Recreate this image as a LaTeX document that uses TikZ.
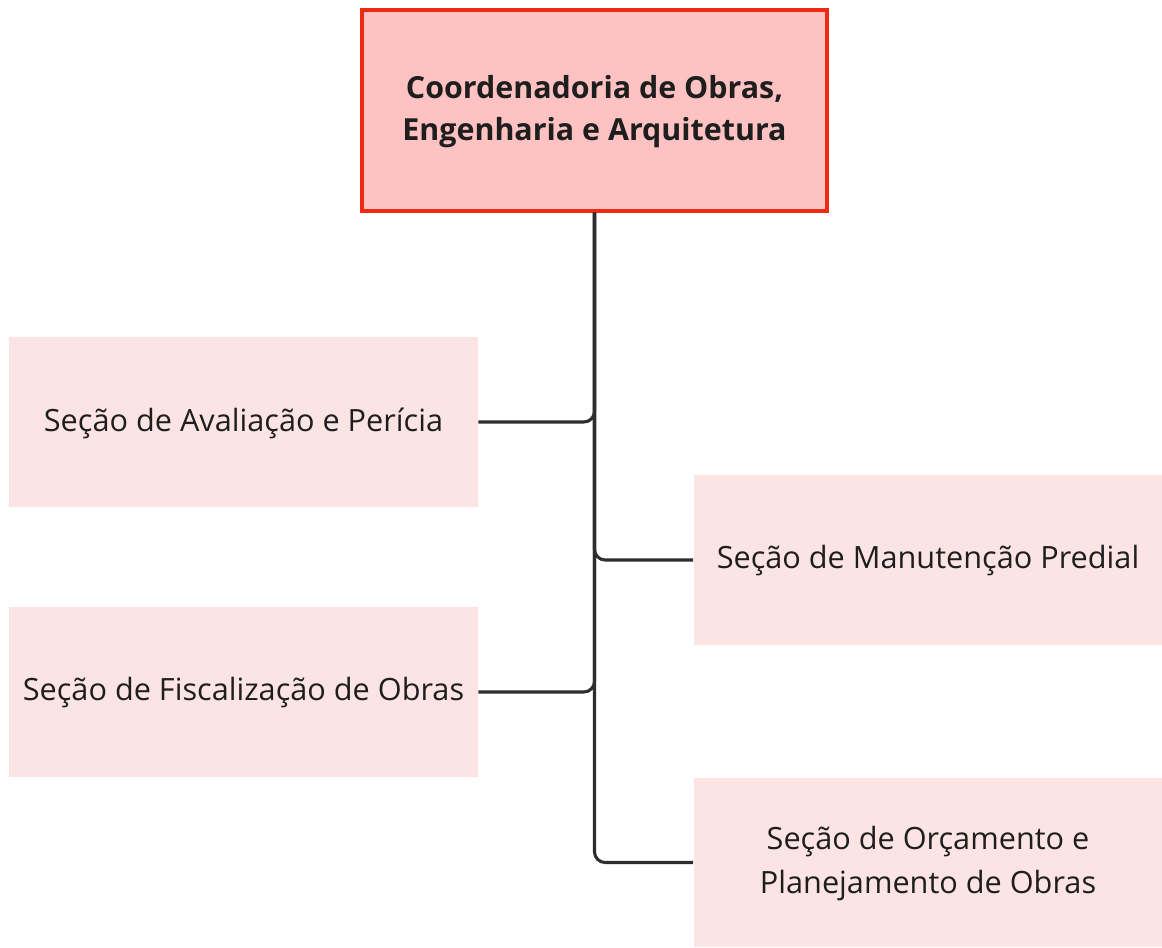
\documentclass[tikz,border=0pt]{standalone}
\usepackage{fontspec}
\setmainfont{Open Sans}
\definecolor{topfill}{HTML}{FFC2C2}
\definecolor{topdraw}{HTML}{EE2A12}
\definecolor{boxfill}{HTML}{FDE4E4}
\definecolor{linec}{HTML}{2D2D2D}
\definecolor{textc}{HTML}{1E1E1E}
\begin{document}
\begin{tikzpicture}[x=0.75pt,y=-0.75pt,
  topbox/.style={draw=topdraw,line width=2.4pt,fill=topfill,minimum width=465*0.75pt,minimum height=201*0.75pt,inner sep=0pt,align=center,font=\fontsize{22.8}{32}\selectfont\bfseries,text=textc,text depth=4pt},
  secbox/.style={fill=boxfill,minimum width=469*0.75pt,minimum height=170*0.75pt,inner sep=0pt,align=center,font=\fontsize{23}{33}\selectfont,text=textc,text depth=4pt},
  conn/.style={draw=linec,line width=2.3pt,rounded corners=8pt}]
\useasboundingbox (0,0) rectangle (1162,947);
\fill[white] (0,0) rectangle (1162,947);
\node[topbox] (top) at (594.5,110.5) {Coordenadoria de Obras,\\Engenharia e Arquitetura};
\node[secbox] (l1) at (243.5,422) {Seção de Avaliação e Perícia};
\node[secbox] (l2) at (243.5,692) {Seção de Fiscalização de Obras};
\node[secbox] (r1) at (928,560) {Seção de Manutenção Predial};
\node[secbox,minimum height=169*0.75pt] (r2) at (928,862.5) {Seção de Orçamento e\\Planejamento de Obras};
\draw[conn] (top.south) |- (l1.east);
\draw[conn] (top.south) |- (l2.east);
\draw[conn] (top.south) |- (r1.west);
\draw[conn] (top.south) |- (r2.west);
\end{tikzpicture}
\end{document}
